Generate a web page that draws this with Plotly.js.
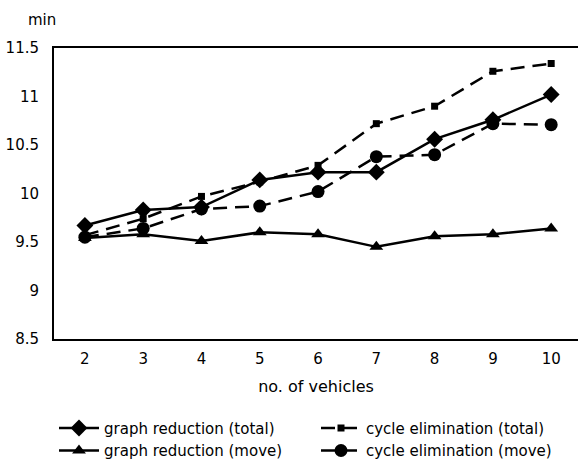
<!DOCTYPE html>
<html>
<head>
<meta charset="utf-8">
<script src="https://cdn.plot.ly/plotly-3.0.1.min.js"></script>
<style>html,body{margin:0;padding:0;background:#fff;}#chart{width:578px;height:464px;}</style>
</head>
<body>
<div id="chart"></div>
<script>
const vehicles = [2, 3, 4, 5, 6, 7, 8, 9, 10];
const graphReductionTotal = [9.67, 9.83, 9.86, 10.14, 10.22, 10.22, 10.56, 10.76, 11.02];
const cycleEliminationTotal = [9.57, 9.74, 9.97, 10.12, 10.29, 10.72, 10.90, 11.26, 11.34];
const graphReductionMove = [9.54, 9.58, 9.51, 9.60, 9.58, 9.45, 9.56, 9.58, 9.64];
const cycleEliminationMove = [9.55, 9.64, 9.84, 9.87, 10.02, 10.38, 10.40, 10.72, 10.71];
const seriesNames = ['graph reduction (total)', 'cycle elimination (total)', 'graph reduction (move)', 'cycle elimination (move)'];
const yTicks = [8.5, 9, 9.5, 10, 10.5, 11, 11.5];
const yTickText = ['8.5', '9', '9.5', '10', '10.5', '11', '11.5'];

const font = 'DejaVu Sans, Verdana, sans-serif';
const dashed = '14px,8px';

const traces = [
  {x: vehicles, y: graphReductionTotal, name: seriesNames[0], mode: 'lines+markers', legend: 'legend',
   line: {color: '#000', width: 2.5}, marker: {symbol: 'diamond', size: 13, color: '#000'}},
  {x: vehicles, y: graphReductionMove, name: seriesNames[2], mode: 'lines+markers', legend: 'legend',
   line: {color: '#000', width: 2.5}, marker: {symbol: 'triangle-up', size: 12, color: '#000'}},
  {x: vehicles, y: cycleEliminationTotal, name: seriesNames[1], mode: 'lines+markers', legend: 'legend2',
   line: {color: '#000', width: 2.5, dash: dashed}, marker: {symbol: 'square', size: 7, color: '#000'}},
  {x: vehicles, y: cycleEliminationMove, name: seriesNames[3], mode: 'lines+markers', legend: 'legend2',
   line: {color: '#000', width: 2.5, dash: dashed}, marker: {symbol: 'circle', size: 13, color: '#000'}}
];

const legendCommon = {
  orientation: 'v', yanchor: 'top', xanchor: 'left', y: -0.25,
  font: {size: 15, family: font, color: '#000'}, bgcolor: 'rgba(0,0,0,0)',
  tracegroupgap: 0, itemwidth: 40
};

const layout = {
  width: 578, height: 464,
  margin: {l: 54, r: 0, t: 48, b: 125, autoexpand: false},
  paper_bgcolor: '#fff', plot_bgcolor: '#fff',
  font: {family: font, color: '#000', size: 15},
  showlegend: true,
  xaxis: {
    range: [1.47, 10.46], tickvals: vehicles, ticktext: vehicles.map(String),
    showgrid: false, zeroline: false, showline: true, mirror: true, linecolor: '#000', linewidth: 2,
    ticks: '', ticklabelstandoff: 5, tickfont: {size: 15, family: font},
    title: {text: 'no. of vehicles', font: {size: 16, family: font}, standoff: 14},
    automargin: false
  },
  yaxis: {
    range: [8.5, 11.5], tickvals: yTicks, ticktext: yTickText,
    showgrid: false, zeroline: false, showline: true, linecolor: '#000', linewidth: 2,
    ticks: '', ticklabelstandoff: 10, tickfont: {size: 15, family: font},
    automargin: false
  },
  legend: Object.assign({}, legendCommon, {x: 0.0}),
  legend2: Object.assign({}, legendCommon, {x: 0.5}),
  annotations: [
    {text: 'min', xref: 'paper', yref: 'paper', x: -0.023, y: 1.096, xanchor: 'center', yanchor: 'middle',
     showarrow: false, font: {size: 15, family: font}}
  ]
};

Plotly.newPlot('chart', traces, layout, {displayModeBar: false, staticPlot: true});
</script>
</body>
</html>
